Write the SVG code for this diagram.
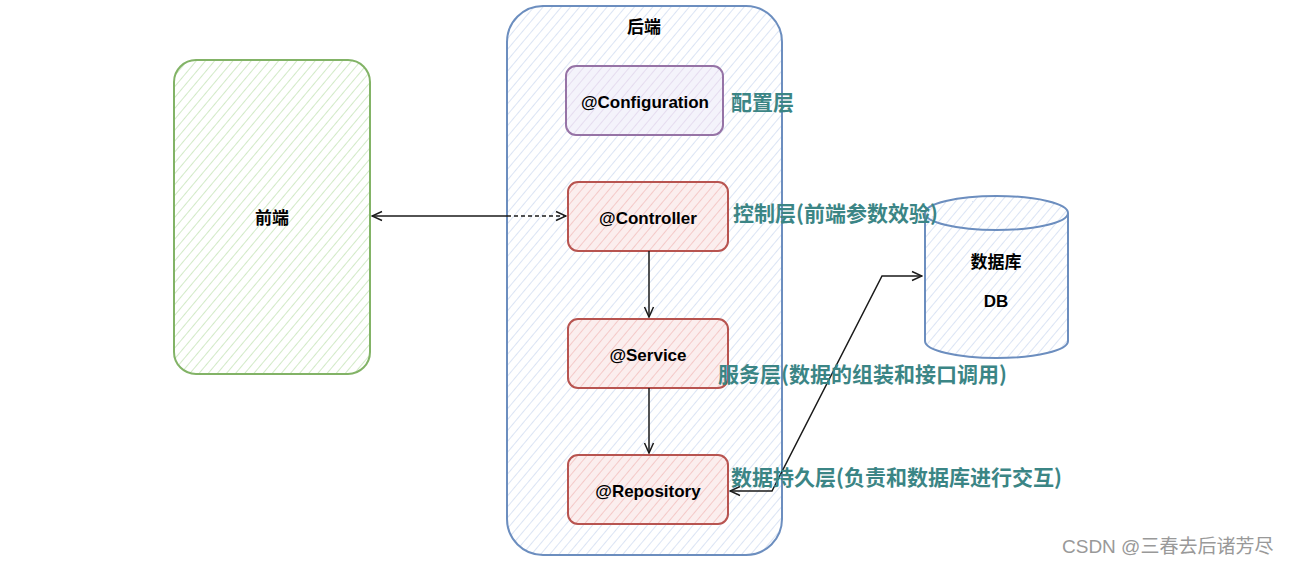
<svg xmlns="http://www.w3.org/2000/svg" width="1289" height="565" viewBox="0 0 1289 565">
<style>
.lbl{font-family:"Liberation Sans","Noto Sans CJK SC",sans-serif;font-weight:bold;font-size:17px;fill:#000;text-anchor:middle;dominant-baseline:central}
.note{font-family:"Noto Sans CJK SC","Liberation Sans",sans-serif;font-weight:bold;font-size:21px;fill:#3b8585;dominant-baseline:central}
.conn{fill:none;stroke:#1a1a1a;stroke-width:1.5}
</style>
<defs>
<pattern id="hG" width="7" height="7" patternUnits="userSpaceOnUse" patternTransform="rotate(40)"><rect width="7" height="7" fill="#fff"/><line x1="0" y1="0" x2="0" y2="7" stroke="#c3e3b5" stroke-width="1.5"/></pattern>
<pattern id="hB" width="7" height="7" patternUnits="userSpaceOnUse" patternTransform="rotate(40)"><rect width="7" height="7" fill="#fff"/><line x1="0" y1="0" x2="0" y2="7" stroke="#cfdcf1" stroke-width="1.5"/></pattern>
<pattern id="hP" width="7" height="7" patternUnits="userSpaceOnUse" patternTransform="rotate(40)"><rect width="7" height="7" fill="#f4f3fb"/><line x1="0" y1="0" x2="0" y2="7" stroke="#e0d5ec" stroke-width="1.5"/></pattern>
<pattern id="hR" width="7" height="7" patternUnits="userSpaceOnUse" patternTransform="rotate(40)"><rect width="7" height="7" fill="#fbeeee"/><line x1="0" y1="0" x2="0" y2="7" stroke="#f2bdbb" stroke-width="1.5"/></pattern>
<marker id="ah" viewBox="0 0 12 12" refX="11" refY="6" markerWidth="12" markerHeight="12" markerUnits="userSpaceOnUse" orient="auto-start-reverse"><path d="M1,1.5 L11,6 L1,10.5" fill="none" stroke="#1a1a1a" stroke-width="1.5"/></marker>
</defs>
<g id="frontend">
<rect x="174" y="60" width="196" height="314" rx="22" fill="url(#hG)" stroke="#82b366" stroke-width="2"/>
<text class="lbl" x="272" y="218">前端</text>
</g>
<g id="backend">
<rect x="507" y="6" width="275" height="549" rx="36" fill="url(#hB)" stroke="#6c8ebf" stroke-width="2"/>
<text class="lbl" x="644" y="27">后端</text>
</g>
<g id="configuration">
<rect x="566" y="66" width="157" height="69" rx="10" fill="url(#hP)" stroke="#9673a6" stroke-width="2"/>
<text class="lbl" x="645" y="102">@Configuration</text>
</g>
<g id="controller">
<rect x="568" y="182" width="160" height="69" rx="10" fill="url(#hR)" stroke="#b85450" stroke-width="2"/>
<text class="lbl" x="648" y="218">@Controller</text>
</g>
<g id="service">
<rect x="568" y="319" width="160" height="69" rx="10" fill="url(#hR)" stroke="#b85450" stroke-width="2"/>
<text class="lbl" x="648" y="355">@Service</text>
</g>
<g id="repository">
<rect x="568" y="455" width="160" height="69" rx="10" fill="url(#hR)" stroke="#b85450" stroke-width="2"/>
<text class="lbl" x="648" y="491">@Repository</text>
</g>
<g id="database">
<path d="M925,213 L925,341 A71.5,17 0 0 0 1068,341 L1068,213 A71.5,17 0 0 0 925,213 Z" fill="url(#hB)" stroke="#6c8ebf" stroke-width="2"/>
<path d="M925,213 A71.5,17 0 0 0 1068,213" fill="none" stroke="#6c8ebf" stroke-width="2"/>
<text class="lbl" x="996" y="262">数据库</text>
<text class="lbl" x="996" y="301">DB</text>
</g>
<g id="connectors">
<line class="conn" x1="372" y1="216" x2="507" y2="216" marker-start="url(#ah)"/>
<line class="conn" x1="507" y1="216" x2="566" y2="216" stroke-dasharray="4 3" marker-end="url(#ah)"/>
<line class="conn" x1="649" y1="251" x2="649" y2="317" marker-end="url(#ah)"/>
<line class="conn" x1="649" y1="388" x2="649" y2="453" marker-end="url(#ah)"/>
<polyline class="conn" points="730,491 772,491 882,276 922,276" marker-start="url(#ah)" marker-end="url(#ah)"/>
</g>
<g id="notes">
<text class="note" x="731" y="101">配置层</text>
<text class="note" x="733" y="212">控制层(前端参数效验)</text>
<text class="note" x="718" y="373">服务层(数据的组装和接口调用)</text>
<text class="note" x="731" y="476">数据持久层(负责和数据库进行交互)</text>
</g>
<text x="1062" y="546" font-family="Liberation Sans,Noto Sans CJK SC,sans-serif" font-size="19" fill="#999" dominant-baseline="central">CSDN @三春去后诸芳尽</text>
</svg>
